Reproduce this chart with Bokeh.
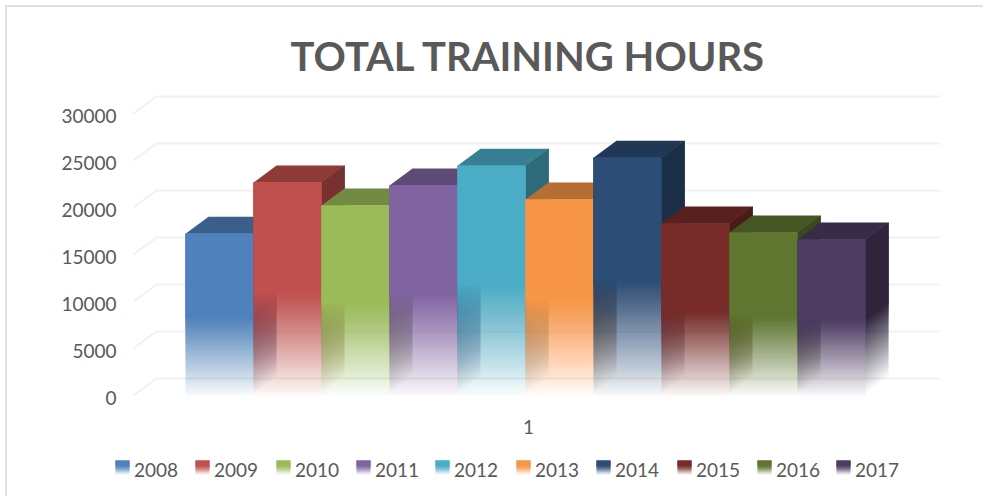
from bokeh.plotting import figure
from bokeh.models import FixedTicker, Range1d
from bokeh.core.properties import value
from bokeh.embed import file_html
from bokeh.resources import INLINE

title_text = "TOTAL TRAINING HOURS"
years = ["2008", "2009", "2010", "2011", "2012", "2013", "2014", "2015", "2016", "2017"]
hours = [17200, 22650, 20200, 22350, 24450, 20850, 25300, 18300, 17350, 16600]
colors = ["#4F81BD", "#C0504D", "#9BBB59", "#8064A2", "#4BACC6",
          "#F79646", "#2C4D75", "#772C2A", "#5F7530", "#4D3B62"]
ticks = [0, 5000, 10000, 15000, 20000, 25000, 30000]
category_label = "1"
legend_key_px = [115, 195, 276, 356, 435, 516, 596, 677, 757, 836]

FONT = "Lato"
TXT = "#595959"

# picture layout
LEFT, TOP = 5, 5          # host box position (border sits here)
BORDER = 2
CANVAS_W, CANVAS_H = 978, 491
W, H = CANVAS_W - BORDER, CANVAS_H - BORDER
BORDER_L = 50
FRAME_L = LEFT + BORDER + BORDER_L
STANDOFF = -24
PX_X = 68.0               # px per bar
PX_V = 0.0094             # px per value unit
X0, Y0 = 185.0, 395.0     # image px of bar 0 left, value 0 front
LABEL_DROP = 2.5          # px the tick labels sit below their gridline ends


def xd(px):
    return (px - X0) / PX_X


def yd(py):
    return (Y0 - py) / PX_V


DX, DY = 23 / PX_X, 17 / PX_V
STEP = 3 / PX_V           # band height in value units
FADE = 0.48
AMIN = 0.05


def mul(c, f):
    r, g, b = int(c[1:3], 16), int(c[3:5], 16), int(c[5:7], 16)
    return "#%02x%02x%02x" % (int(r * f), int(g * f), int(b * f))


def layers(edges, targets):
    """Per-layer alpha so that stacked layers accumulate to the target opacity."""
    out, prev = [], 0.0
    for t in targets:
        out.append(1.0 if t >= 1 else 1 - (1 - t) / (1 - prev))
        prev = t
    return out


p = figure(width=W, height=H, output_backend="svg", toolbar_location=None,
           x_range=Range1d(xd(FRAME_L), xd(LEFT + BORDER + CANVAS_W)),
           y_range=Range1d(yd(TOP + BORDER + CANVAS_H), yd(TOP + BORDER)),
           min_border_left=BORDER_L, min_border_right=0, min_border_top=0, min_border_bottom=0,
           outline_line_color=None, background_fill_color="white", border_fill_color="white")
p.styles = {"position": "absolute", "left": f"{LEFT}px", "top": f"{TOP}px", "box-sizing": "content-box",
            "border-left": f"{BORDER}px solid #e0e0e0", "border-top": f"{BORDER}px solid #e0e0e0"}
p.grid.visible = False
p.xaxis.visible = False
p.extra_y_ranges = {"labels": Range1d(yd(TOP + BORDER + CANVAS_H - LABEL_DROP), yd(TOP + BORDER - LABEL_DROP))}

ax = p.yaxis[0]
ax.y_range_name = "labels"
ax.ticker = FixedTicker(ticks=ticks)
ax.fixed_location = xd(122 + STANDOFF)
ax.axis_line_color = None
ax.major_tick_line_color = None
ax.minor_tick_line_color = None
ax.major_label_text_font = FONT
ax.major_label_text_font_size = "19px"
ax.major_label_text_color = TXT
ax.major_label_standoff = STANDOFF
ax.formatter.use_scientific = False

# gridlines on floor/wall
p.multi_line(xs=[[xd(133), xd(133) + DX, xd(940)] for _ in ticks],
             ys=[[t, t + DY, t + DY] for t in ticks],
             line_color="#f1f1f1", line_width=2)

# bars, left to right so each front hides the side of its left neighbour
for i, (h, c) in enumerate(zip(hours, colors)):
    fade_top = h * FADE
    edges = []
    v = 0.0
    while v < fade_top - STEP / 2:
        edges.append(v)
        v += STEP
    edges.append(fade_top)
    front_t = [min(1.0, AMIN + (1 - AMIN) * e / fade_top) for e in edges]
    side_t = [min(1.0, e / fade_top) for e in edges]
    r = i + 1

    # side face: stacked translucent layers, each reaching up to the bar's top
    sa = layers(edges, side_t)
    p.patches([[r, r + DX, r + DX, r] for _ in edges],
              [[e, e + DY, h + DY, h] for e in edges],
              fill_color=mul(c, 0.62), fill_alpha=sa, line_color=None)

    # top face
    p.patch([i, i + DX, r + DX, r], [h, h + DY, h + DY, h], fill_color=mul(c, 0.74), line_color=None)

    # front face: same stacked layers
    fa = layers(edges, front_t)
    p.quad(left=[i] * len(edges), right=[r] * len(edges), bottom=edges, top=[h] * len(edges),
           fill_color=c, fill_alpha=fa, line_color=None)

# category label
p.text([xd(528)], [yd(426)], text=[category_label], text_font=value(FONT), text_font_size="19px",
       text_color=TXT, text_align="center", text_baseline="middle")

# title
p.text([xd(528)], [yd(55)], text=[title_text], text_font=value(FONT), text_font_size="40px",
       text_font_style="bold", text_color=TXT, text_align="center", text_baseline="middle")

# legend
for kx, y, c in zip(legend_key_px, years, colors):
    k_edges = [474, 472, 470, 468, 466]
    k_alpha = layers(k_edges, [0.15, 0.4, 0.65, 0.85, 1.0])
    for e, al in zip(k_edges, k_alpha):
        p.quad(left=[xd(kx)], right=[xd(kx + 14)], top=[yd(460)], bottom=[yd(e)],
               fill_color=c, fill_alpha=al, line_color=None)
    p.text([xd(kx + 18.5)], [yd(469)], text=[y], text_font=value(FONT), text_font_size="19px",
           text_color=TXT, text_align="left", text_baseline="middle")

open("out.html", "w").write(file_html(p, INLINE))
